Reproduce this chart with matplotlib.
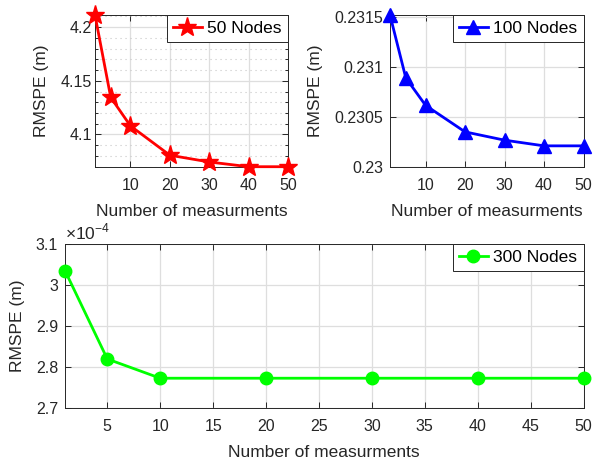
import matplotlib
matplotlib.use('Agg')
import matplotlib.pyplot as plt
from matplotlib.ticker import FixedLocator, MultipleLocator, FuncFormatter

# measurement counts shared by all three runs
measurements = [1, 5, 10, 20, 30, 40, 50]

rmspe_50 = [4.2112, 4.1345, 4.1080, 4.0807, 4.0744, 4.0700, 4.0700]
rmspe_100 = [0.231520, 0.230890, 0.230615, 0.230349, 0.230266, 0.230209, 0.230209]
rmspe_300 = [3.035e-4, 2.819e-4, 2.772e-4, 2.772e-4, 2.772e-4, 2.772e-4, 2.772e-4]

top_xticks = [10, 20, 30, 40, 50]
bottom_xticks = [5, 10, 15, 20, 25, 30, 35, 40, 45, 50]

plt.rcParams['font.family'] = ['Liberation Sans', 'DejaVu Sans']
plt.rcParams['mathtext.fontset'] = 'custom'
plt.rcParams['mathtext.rm'] = 'Liberation Sans'

DARK = (0.15, 0.15, 0.15)
GRID = (0.87, 0.87, 0.87)
TICK_FS = 11.5
LABEL_FS = 12.5


def fmt(v, pos):
    return '{:g}'.format(round(v, 6))


def style_axes(ax, xticks, ypad=5):
    ax.set_xlim(1, 50)
    ax.xaxis.set_major_locator(FixedLocator(xticks))
    ax.yaxis.set_major_formatter(FuncFormatter(fmt))
    ax.tick_params(which='both', direction='in', top=True, right=True,
                   colors=DARK, labelsize=TICK_FS, width=0.7)
    ax.tick_params(which='major', length=4.5)
    ax.tick_params(which='minor', length=2.5)
    ax.tick_params(axis='x', which='major', pad=8)
    ax.tick_params(axis='y', which='major', pad=ypad)
    for spine in ax.spines.values():
        spine.set_color(DARK)
        spine.set_linewidth(0.7)
    ax.grid(True, which='major', color=GRID, linewidth=0.9)
    ax.set_axisbelow(True)
    ax.set_xlabel('Number of measurments', fontsize=LABEL_FS, color=DARK,
                  labelpad=8)
    ax.set_ylabel('RMSPE (m)', fontsize=LABEL_FS, color=DARK, labelpad=8)


def add_legend(ax):
    leg = ax.legend(loc='upper right', borderaxespad=0, fontsize=LABEL_FS,
                    fancybox=False, framealpha=1, edgecolor=DARK,
                    handlelength=1.7, handletextpad=0.3, borderpad=0.35)
    leg.get_frame().set_linewidth(0.7)


fig = plt.figure(figsize=(6.0, 4.59), dpi=100)
ax1 = fig.add_axes([0.1583, 0.6368, 0.3217, 0.3305])
ax2 = fig.add_axes([0.65, 0.6368, 0.3225, 0.3305])
ax3 = fig.add_axes([0.1083, 0.1118, 0.8642, 0.3566])

ax1.plot(measurements, rmspe_50, color='red', linewidth=2, marker='*',
         markersize=14, label='50 Nodes', clip_on=False, zorder=3)
style_axes(ax1, top_xticks, ypad=2.5)
ax1.set_ylim(min(rmspe_50), max(rmspe_50))
ax1.yaxis.set_major_locator(MultipleLocator(0.05))
ax1.yaxis.set_minor_locator(MultipleLocator(0.01))
ax1.grid(True, which='minor', axis='y', color=(0.78, 0.78, 0.78),
         linestyle=(0, (1, 3.5)), linewidth=0.8)
add_legend(ax1)

ax2.plot(measurements, rmspe_100, color='blue', linewidth=2, marker='^',
         markersize=10, label='100 Nodes', clip_on=False, zorder=3)
style_axes(ax2, top_xticks)
ax2.set_ylim(0.23, max(rmspe_100))
ax2.yaxis.set_major_locator(MultipleLocator(0.0005))
add_legend(ax2)

ax3.plot(measurements, rmspe_300, color=(0, 1, 0), linewidth=2, marker='o',
         markersize=9, label='300 Nodes', clip_on=False, zorder=3)
style_axes(ax3, bottom_xticks)
ax3.set_ylim(2.7e-4, 3.1e-4)
ax3.yaxis.set_major_locator(MultipleLocator(0.1e-4))
ax3.yaxis.set_major_formatter(FuncFormatter(lambda v, p: '{:g}'.format(round(v * 1e4, 4))))
ax3.text(0.0, 1.01, r'$\times10^{-4}$', transform=ax3.transAxes,
         fontsize=LABEL_FS, color=DARK, ha='left', va='bottom')
add_legend(ax3)

fig.savefig('out.png', dpi=100)
